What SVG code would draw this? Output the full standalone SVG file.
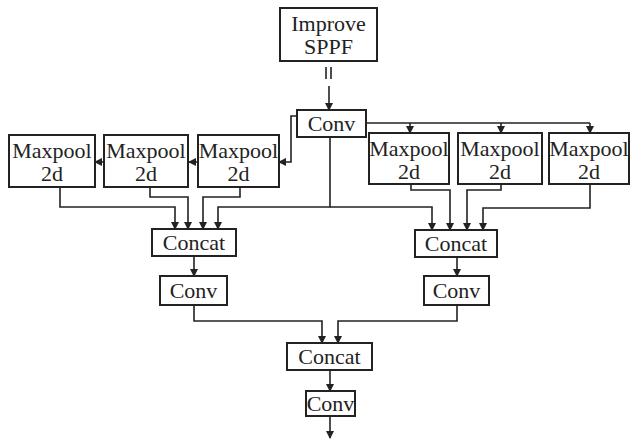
<svg xmlns="http://www.w3.org/2000/svg" width="630" height="439" viewBox="0 0 630 439">
<defs>
<marker id="ah" markerWidth="8" markerHeight="8" refX="7" refY="4" orient="auto" markerUnits="userSpaceOnUse">
<path d="M0,0 L8,4 L0,8 Z" fill="#222"/>
</marker>
<style>
.box{fill:#fff;stroke:#222;stroke-width:2}
.t{font-family:"Liberation Serif","Times New Roman",serif;font-size:22px;fill:#222;text-anchor:middle}
.c{fill:none;stroke:#222;stroke-width:1.6}
.a{fill:none;stroke:#222;stroke-width:1.6;marker-end:url(#ah)}
</style>
</defs>
<rect width="630" height="439" fill="#fff"/>
<g id="connectors">
<path class="c" d="M326,67 V79 M331,67 V79"/>
<path class="a" d="M329,86 V110"/>
<path class="a" d="M297,116 H291 V162 H279"/>
<path class="a" d="M198,162 H189"/>
<path class="a" d="M103,162 H95"/>
<path class="c" d="M366,123 H590"/>
<path class="a" d="M410,123 V133"/>
<path class="a" d="M501,123 V133"/>
<path class="a" d="M590,123 V133"/>
<path class="a" d="M60,187 V207 H175 V229"/>
<path class="a" d="M150,187 V197 H188 V229"/>
<path class="a" d="M240,187 V197 H203 V229"/>
<path class="a" d="M330,137 V207 H218 V229"/>
<path class="a" d="M330,207 H432 V230"/>
<path class="a" d="M411,184 V190 H450 V230"/>
<path class="a" d="M501,184 V190 H467 V230"/>
<path class="a" d="M590,184 V208 H483 V230"/>
<path class="a" d="M194,256 V276"/>
<path class="a" d="M457,257 V276"/>
<path class="a" d="M194,305 V321 H322 V343"/>
<path class="a" d="M457,305 V321 H338 V343"/>
<path class="a" d="M330,370 V391"/>
<path class="a" d="M330,416 V438"/>
</g>
<g id="sppf"><rect class="box" x="280" y="8" width="97" height="53"/><text class="t" x="328.5" y="31">Improve</text><text class="t" x="328.5" y="54">SPPF</text></g>
<g id="conv0"><rect class="box" x="297" y="110" width="69" height="27"/><text class="t" x="331.5" y="131">Conv</text></g>
<g id="mpL1"><rect class="box" x="9" y="135" width="86" height="52"/><text class="t" x="52" y="158">Maxpool</text><text class="t" x="52" y="181">2d</text></g>
<g id="mpL2"><rect class="box" x="104" y="135" width="84" height="52"/><text class="t" x="146" y="158">Maxpool</text><text class="t" x="146" y="181">2d</text></g>
<g id="mpL3"><rect class="box" x="198" y="135" width="81" height="52"/><text class="t" x="238.5" y="158">Maxpool</text><text class="t" x="238.5" y="181">2d</text></g>
<g id="mpR1"><rect class="box" x="369" y="133" width="80" height="51"/><text class="t" x="409" y="156">Maxpool</text><text class="t" x="409" y="179">2d</text></g>
<g id="mpR2"><rect class="box" x="458" y="133" width="84" height="51"/><text class="t" x="500" y="156">Maxpool</text><text class="t" x="500" y="179">2d</text></g>
<g id="mpR3"><rect class="box" x="549" y="133" width="80" height="51"/><text class="t" x="589" y="156">Maxpool</text><text class="t" x="589" y="179">2d</text></g>
<g id="concatL"><rect class="box" x="152" y="229" width="84" height="27"/><text class="t" x="194" y="250">Concat</text></g>
<g id="concatR"><rect class="box" x="415" y="230" width="82" height="27"/><text class="t" x="456" y="251">Concat</text></g>
<g id="convL"><rect class="box" x="160" y="276" width="67" height="29"/><text class="t" x="193.5" y="298">Conv</text></g>
<g id="convR"><rect class="box" x="424" y="276" width="65" height="29"/><text class="t" x="456.5" y="298">Conv</text></g>
<g id="concatB"><rect class="box" x="287" y="343" width="85" height="27"/><text class="t" x="329.5" y="364">Concat</text></g>
<g id="convB"><rect class="box" x="306" y="391" width="49" height="25"/><text class="t" x="330.5" y="411">Conv</text></g>
</svg>
